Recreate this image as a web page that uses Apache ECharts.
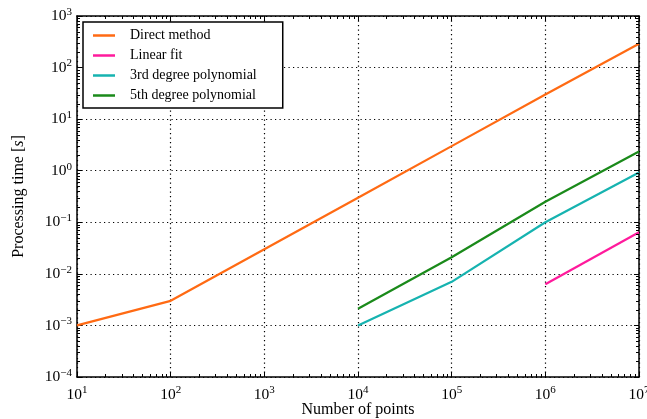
<!DOCTYPE html>
<html lang="en">
<head>
<meta charset="UTF-8">
<title>Processing time</title>
<script src="https://cdn.jsdelivr.net/npm/echarts@6/dist/echarts.min.js"></script>
</head>
<body style="margin:0;background:#fff;">
<div id="container" style="width:647px;height:419px;"></div>
<script>
// data
var directX = [1e1, 1e2, 1e3, 1e4, 1e5, 1e6, 1e7];
var directY = [1e-3, 3e-3, 3e-2, 3e-1, 3, 30, 290];
var linearX = [1e6, 1e7];
var linearY = [6.3e-3, 6.4e-2];
var poly3X = [1e4, 1e5, 1e6, 1e7];
var poly3Y = [1e-3, 7e-3, 1e-1, 0.92];
var poly5X = [1e4, 1e5, 1e6, 1e7];
var poly5Y = [2.1e-3, 2.1e-2, 0.25, 2.35];

var seriesNames = ['Direct method', 'Linear fit', '3rd degree polynomial', '5th degree polynomial'];
var seriesColors = ['#ff6a13', '#ff1a9c', '#16b3b0', '#1a8a1a'];

var xMin = 1e1, xMax = 1e7, yMin = 1e-4, yMax = 1e3;

// minor ticks 2..9 x 10^k
var minorX = [], minorY = [];
for (var k = 1; k < 7; k++) {
  for (var m = 2; m < 10; m++) minorX.push(m * Math.pow(10, k));
}
for (var k = -4; k < 3; k++) {
  for (var m = 2; m < 10; m++) minorY.push(m * Math.pow(10, k));
}

function pairs(xs, ys) {
  var out = [];
  for (var i = 0; i < xs.length; i++) out.push([xs[i], ys[i]]);
  return out;
}

var FONT = 'Liberation Serif';

function powLabel(v) {
  var e = Math.round(Math.log(v) / Math.LN10);
  var s = e < 0 ? '\u2212' + (-e) : '' + e;
  return '{b|10}{s|' + s + '}';
}
var labelRich = {
  b: { fontFamily: FONT, fontSize: 15.5, color: '#000' },
  s: { fontFamily: FONT, fontSize: 11, color: '#000', padding: [0, 0, 8, 0] }
};

var chart = echarts.init(document.getElementById('container'));

function lineSeries(i, xs, ys) {
  return {
    name: seriesNames[i],
    type: 'line',
    data: pairs(xs, ys),
    symbol: 'none',
    showSymbol: false,
    color: seriesColors[i],
    lineStyle: { width: 2.2, color: seriesColors[i] },
    z: 3
  };
}

function minorTicks(axis) {
  return {
    type: 'custom',
    silent: true,
    data: axis === 'x' ? minorX.map(function (v) { return [v, 1]; })
                       : minorY.map(function (v) { return [100, v]; }),
    renderItem: function (params, api) {
      var cs = params.coordSys;
      var p = api.coord([api.value(0), api.value(1)]);
      var st = { stroke: '#000', lineWidth: 1 };
      if (axis === 'x') {
        var x = Math.round(p[0]) + 0.5;
        return { type: 'group', children: [
          { type: 'line', shape: { x1: x, y1: cs.y + cs.height, x2: x, y2: cs.y + cs.height - 3 }, style: st },
          { type: 'line', shape: { x1: x, y1: cs.y, x2: x, y2: cs.y + 3 }, style: st }
        ] };
      }
      var y = Math.round(p[1]) + 0.5;
      return { type: 'group', children: [
        { type: 'line', shape: { x1: cs.x, y1: y, x2: cs.x + 3, y2: y }, style: st },
        { type: 'line', shape: { x1: cs.x + cs.width, y1: y, x2: cs.x + cs.width - 3, y2: y }, style: st }
      ] };
    },
    z: 4
  };
}

var axisLine = { show: true, onZero: false, lineStyle: { color: '#000', width: 1.5 } };
var majorTick = { show: true, inside: true, length: 5, lineStyle: { color: '#000', width: 1 } };
var gridLine = { show: true, lineStyle: { color: '#000', width: 1.2, type: [1.2, 3.3] } };

var option = {
  backgroundColor: '#fff',
  animation: false,
  grid: { left: 77, right: 8, top: 16, bottom: 42, containLabel: false, outerBoundsMode: 'none' },
  legend: {
    data: seriesNames,
    orient: 'vertical',
    left: 83,
    top: 22,
    padding: [6, 26, 5, 10],
    icon: 'rect',
    itemWidth: 22,
    itemHeight: 2.5,
    itemGap: 5,
    borderColor: '#000',
    borderWidth: 1.5,
    borderRadius: 0,
    backgroundColor: '#fff',
    textStyle: { fontFamily: FONT, fontSize: 14, lineHeight: 15, color: '#000', padding: [0, 0, 0, 10] }
  },
  xAxis: [{
    type: 'log', logBase: 10, min: xMin, max: xMax,
    axisLine: axisLine, axisTick: majorTick, splitLine: gridLine,
    axisLabel: { margin: 8, formatter: powLabel, rich: labelRich },
    name: 'Number of points', nameLocation: 'middle', nameGap: 25, nameMoveOverlap: false,
    nameTextStyle: { fontFamily: FONT, fontSize: 16, color: '#000', verticalAlign: 'top' }
  }, {
    type: 'log', logBase: 10, min: xMin, max: xMax, position: 'top',
    axisLine: axisLine, axisTick: majorTick, splitLine: { show: false },
    axisLabel: { show: false }
  }],
  yAxis: [{
    type: 'log', logBase: 10, min: yMin, max: yMax,
    axisLine: axisLine, axisTick: majorTick, splitLine: gridLine,
    axisLabel: { margin: 5, formatter: powLabel, rich: labelRich },
    name: 'Processing time [{i|s}]', nameLocation: 'middle', nameGap: 50, nameRotate: 90,
    nameMoveOverlap: false,
    nameTextStyle: { fontFamily: FONT, fontSize: 16, color: '#000',
      rich: { i: { fontFamily: FONT, fontSize: 16, fontStyle: 'italic', color: '#000' } } }
  }, {
    type: 'log', logBase: 10, min: yMin, max: yMax, position: 'right',
    axisLine: axisLine, axisTick: majorTick, splitLine: { show: false },
    axisLabel: { show: false }
  }],
  series: [
    lineSeries(0, directX, directY),
    lineSeries(1, linearX, linearY),
    lineSeries(2, poly3X, poly3Y),
    lineSeries(3, poly5X, poly5Y),
    minorTicks('x'),
    minorTicks('y')
  ]
};
chart.setOption(option);
</script>
</body>
</html>
